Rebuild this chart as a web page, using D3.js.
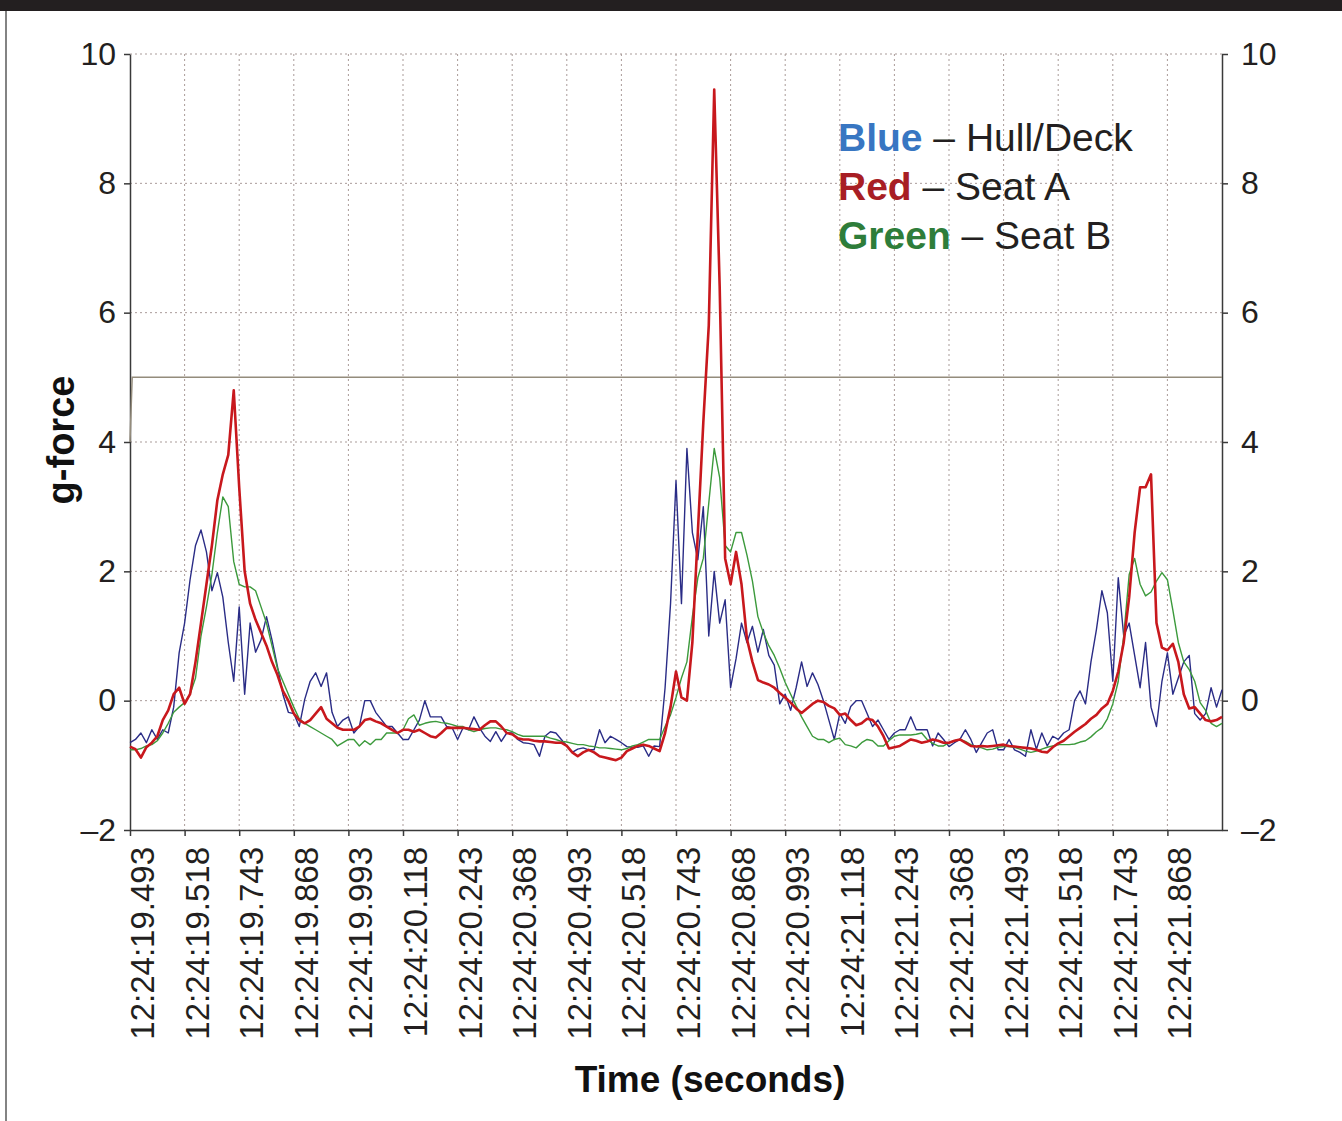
<!DOCTYPE html>
<html lang="en">
<meta charset="utf-8">
<title>g-force over time</title>
<style>
  body { margin: 0; background: #fff; font-family: "Liberation Sans", Arial, sans-serif; }
  .grid line { stroke: #a99b99; stroke-width: 1; stroke-dasharray: 2,3; }
  .axis path, .axis line { stroke: #3a3a3a; stroke-width: 1.5; }
  .axis text { font-family: "Liberation Sans", Arial, sans-serif; fill: #231f20; }
  .title { font-family: "Liberation Sans", Arial, sans-serif; font-weight: bold; fill: #111; }
  .legend { font-family: "Liberation Sans", Arial, sans-serif; font-size: 39px; fill: #231f20; }
</style>
<body>
<script src="https://d3js.org/d3.v7.min.js"></script>
<svg class="chart"></svg>
<script>
// sample index runs 0..200, ten samples between time labels
var timeLabels = ["12:24:19.493", "12:24:19.518", "12:24:19.743", "12:24:19.868", "12:24:19.993",
  "12:24:20.118", "12:24:20.243", "12:24:20.368", "12:24:20.493", "12:24:20.518",
  "12:24:20.743", "12:24:20.868", "12:24:20.993", "12:24:21.118", "12:24:21.243",
  "12:24:21.368", "12:24:21.493", "12:24:21.518", "12:24:21.743", "12:24:21.868"];
var gTicks = [-2, 0, 2, 4, 6, 8, 10];

// Blue - Hull/Deck
var hullDeck = [
  -0.65, -0.6, -0.5, -0.65, -0.45, -0.6, -0.45, -0.5, -0.1, 0.74,
  1.2, 1.87, 2.4, 2.64, 2.3, 1.7, 1.98, 1.6, 0.9, 0.3,
  1.45, 0.1, 1.2, 0.75, 0.94, 1.3, 0.94, 0.53, 0.1, -0.18,
  -0.2, -0.4, 0.02, 0.3, 0.43, 0.22, 0.43, -0.18, -0.4, -0.3,
  -0.25, -0.5, -0.4, 0.0, 0.0, -0.18, -0.29, -0.4, -0.4, -0.5,
  -0.6, -0.6, -0.45, -0.3, 0.0, -0.25, -0.25, -0.25, -0.4, -0.42,
  -0.6, -0.42, -0.45, -0.25, -0.42, -0.55, -0.63, -0.48, -0.63, -0.5,
  -0.5, -0.6, -0.65, -0.66, -0.68, -0.86, -0.55, -0.48, -0.5, -0.6,
  -0.7, -0.8, -0.75, -0.73, -0.76, -0.76, -0.45, -0.65, -0.55, -0.6,
  -0.65, -0.71, -0.72, -0.72, -0.7, -0.86, -0.7, -0.71, 0.2, 1.5,
  3.4, 1.5, 3.9, 2.6, 2.18, 3.0, 1.0, 2.0, 1.2, 1.56,
  0.2, 0.65, 1.2, 0.9, 1.15, 0.75, 1.1, 0.7, 0.55, -0.05,
  0.1, -0.15, 0.2, 0.6, 0.22, 0.43, 0.25, 0.0, -0.3, -0.6,
  -0.2, -0.35, -0.09, 0.0, 0.0, -0.2, -0.4, -0.3, -0.45, -0.6,
  -0.5, -0.45, -0.45, -0.25, -0.45, -0.45, -0.45, -0.7, -0.5, -0.6,
  -0.71, -0.65, -0.6, -0.45, -0.6, -0.8, -0.65, -0.5, -0.45, -0.76,
  -0.76, -0.6, -0.76, -0.8, -0.86, -0.45, -0.75, -0.5, -0.7, -0.55,
  -0.6, -0.5, -0.45, 0.0, 0.15, -0.05, 0.6, 1.1, 1.7, 1.36,
  0.3, 1.9, 1.0, 1.2, 0.7, 0.2, 0.9, -0.1, -0.4, 0.3,
  0.74, 0.1, 0.35, 0.6, 0.7, -0.2, -0.3, -0.2, 0.2, -0.1,
  0.17];

// Red - Seat A
var seatA = [
  -0.71, -0.75, -0.88, -0.72, -0.65, -0.55, -0.3, -0.15, 0.1, 0.2,
  -0.05, 0.1, 0.6, 1.2, 1.8, 2.4, 3.1, 3.5, 3.8, 4.8,
  3.3, 2.0, 1.5, 1.25, 1.05, 0.85, 0.6, 0.4, 0.15, 0.0,
  -0.2, -0.3, -0.35, -0.3, -0.2, -0.1, -0.28, -0.35, -0.42, -0.45,
  -0.45, -0.45, -0.4, -0.3, -0.28, -0.32, -0.35, -0.4, -0.45, -0.5,
  -0.45, -0.45, -0.48, -0.45, -0.5, -0.55, -0.57, -0.5, -0.42, -0.42,
  -0.42, -0.42, -0.43, -0.44, -0.45, -0.38, -0.32, -0.32, -0.4, -0.5,
  -0.52, -0.58, -0.6, -0.6, -0.62, -0.63, -0.63, -0.64, -0.65, -0.65,
  -0.7, -0.8, -0.86, -0.8, -0.76, -0.8, -0.86, -0.88, -0.9, -0.92,
  -0.88, -0.78, -0.74, -0.7, -0.68, -0.7, -0.74, -0.78, -0.5, -0.1,
  0.45, 0.05, 0.0, 0.9, 2.6, 4.3, 5.8, 9.45, 6.4, 2.2,
  1.8, 2.3, 1.8, 0.95, 0.6, 0.32, 0.28, 0.25, 0.2, 0.12,
  0.05, -0.03, -0.12, -0.19, -0.12, -0.05, 0.0, -0.02, -0.08, -0.12,
  -0.22, -0.2, -0.3, -0.38, -0.35, -0.28, -0.3, -0.4, -0.55, -0.74,
  -0.72, -0.7, -0.65, -0.6, -0.62, -0.65, -0.63, -0.6, -0.62, -0.65,
  -0.65, -0.62, -0.6, -0.65, -0.7, -0.71, -0.7, -0.71, -0.7, -0.69,
  -0.68, -0.7, -0.71, -0.72, -0.73, -0.74, -0.76, -0.79, -0.8, -0.72,
  -0.66, -0.62, -0.55, -0.48, -0.42, -0.36, -0.28, -0.22, -0.12, -0.05,
  0.15, 0.45, 0.9, 1.6, 2.6, 3.3, 3.3, 3.5, 1.2, 0.82,
  0.78, 0.88, 0.6, 0.1, -0.12, -0.1, -0.2, -0.3, -0.32, -0.3,
  -0.25];

// Green - Seat B
var seatB = [
  -0.76, -0.76, -0.74, -0.7, -0.68, -0.62, -0.5, -0.35, -0.18, -0.1,
  -0.03, 0.1, 0.35, 1.0, 1.45, 1.95, 2.6, 3.15, 3.0, 2.15,
  1.8, 1.76, 1.76, 1.7, 1.45, 1.2, 0.85, 0.5, 0.3, 0.1,
  -0.1, -0.28, -0.35, -0.4, -0.45, -0.5, -0.55, -0.6, -0.7, -0.65,
  -0.6, -0.6, -0.7, -0.62, -0.68, -0.6, -0.6, -0.5, -0.5, -0.5,
  -0.45, -0.28, -0.22, -0.38, -0.35, -0.33, -0.32, -0.34, -0.35, -0.37,
  -0.4, -0.4, -0.45, -0.48, -0.45, -0.43, -0.42, -0.42, -0.44, -0.45,
  -0.48, -0.52, -0.55, -0.55, -0.55, -0.55, -0.55, -0.58, -0.6, -0.63,
  -0.64, -0.66, -0.68, -0.68, -0.7, -0.71, -0.73, -0.73, -0.74, -0.75,
  -0.76, -0.74, -0.7, -0.68, -0.64, -0.6, -0.6, -0.6, -0.4, -0.22,
  0.05, 0.35, 0.6, 1.3, 1.9, 2.2, 3.05, 3.9, 3.45, 2.4,
  2.3, 2.6, 2.6, 2.25, 1.85, 1.3, 1.05, 0.85, 0.7, 0.5,
  0.28, 0.1, -0.08, -0.25, -0.4, -0.55, -0.6, -0.6, -0.65, -0.6,
  -0.58, -0.68, -0.7, -0.73, -0.65, -0.6, -0.62, -0.7, -0.7, -0.62,
  -0.55, -0.53, -0.53, -0.53, -0.52, -0.5, -0.6, -0.66, -0.7, -0.7,
  -0.65, -0.62, -0.6, -0.63, -0.68, -0.71, -0.73, -0.76, -0.75, -0.72,
  -0.71, -0.71, -0.72, -0.75, -0.78, -0.8, -0.78, -0.75, -0.72, -0.7,
  -0.68, -0.68, -0.68, -0.67, -0.64, -0.62, -0.56, -0.48, -0.42, -0.28,
  -0.05, 0.3, 1.0, 1.95, 2.2, 1.8, 1.62, 1.68, 1.85, 1.98,
  1.87, 1.4, 0.9, 0.6, 0.48, 0.3, -0.03, -0.15, -0.35, -0.4,
  -0.35];

// limit line (sample index, g)
var limitT = [0, 0.4, 200];
var limitV = [4, 5, 5];

var W = 1342, H = 1121;
var margin = {top: 54, right: 120, bottom: 291, left: 130},
    width = W - margin.left - margin.right,
    height = H - margin.top - margin.bottom;

var svg = d3.select(".chart")
    .attr("width", W)
    .attr("height", H);

// frame bits
svg.append("rect").attr("x", 0).attr("y", 0).attr("width", W).attr("height", 11).attr("fill", "#231f20");
svg.append("line").attr("x1", 6).attr("x2", 6).attr("y1", 11).attr("y2", H)
    .attr("stroke", "#5a5a5a").attr("stroke-width", 1.5);

var g = svg.append("g")
    .attr("transform", "translate(" + margin.left + "," + margin.top + ")");

var x = d3.scaleLinear().domain([0, 200]).range([0, width]);
var y = d3.scaleLinear().domain([-2, 10]).range([height, 0]);
var tickIdx = d3.range(0, 200, 10);

// grid
g.append("g").attr("class", "grid")
  .selectAll("line").data(gTicks.filter(function(d) { return d > -2; }))
  .enter().append("line")
    .attr("x1", 0).attr("x2", width)
    .attr("y1", function(d) { return y(d); }).attr("y2", function(d) { return y(d); });
g.append("g").attr("class", "grid")
  .selectAll("line").data(tickIdx.slice(1))
  .enter().append("line")
    .attr("x1", function(d) { return x(d); }).attr("x2", function(d) { return x(d); })
    .attr("y1", 0).attr("y2", height);

// axes
var yl = g.append("g").attr("class", "axis")
    .call(d3.axisLeft(y).tickValues(gTicks).tickSize(6).tickSizeOuter(0).tickPadding(8));
var yr = g.append("g").attr("class", "axis")
    .attr("transform", "translate(" + width + ",0)")
    .call(d3.axisRight(y).tickValues(gTicks).tickSize(6).tickSizeOuter(0).tickPadding(13));
[yl, yr].forEach(function(a) {
  a.selectAll("text").style("font-size", "32px").text(function(d) { return d < 0 ? "\u2013" + (-d) : d; });
});

var xa = g.append("g").attr("class", "axis")
    .attr("transform", "translate(0," + height + ")")
    .call(d3.axisBottom(x).tickValues(tickIdx).tickSize(6).tickSizeOuter(0)
      .tickFormat(function(d, i) { return timeLabels[i]; }));
xa.selectAll("text")
    .style("font-size", "33px")
    .style("text-anchor", "end")
    .attr("transform", "rotate(-90)")
    .attr("x", -17)
    .attr("y", 12)
    .attr("dy", "0.35em");

// limit line
var limit = limitT.map(function(t, i) { return [t, limitV[i]]; });
g.append("path").datum(limit)
    .attr("fill", "none").attr("stroke", "#948c7c").attr("stroke-width", 1.5)
    .attr("d", d3.line().x(function(d) { return x(d[0]); }).y(function(d) { return y(d[1]); }));

var line = d3.line()
    .x(function(d, i) { return x(i); })
    .y(function(d) { return y(d); });

g.append("path").datum(hullDeck)
    .attr("fill", "none").attr("stroke", "#2a2c86").attr("stroke-width", 1.4)
    .attr("stroke-linejoin", "round").attr("d", line);
g.append("path").datum(seatB)
    .attr("fill", "none").attr("stroke", "#3c9a3c").attr("stroke-width", 1.4)
    .attr("stroke-linejoin", "round").attr("d", line);
g.append("path").datum(seatA)
    .attr("fill", "none").attr("stroke", "#c8181d").attr("stroke-width", 2.6)
    .attr("stroke-linejoin", "round").attr("d", line);

// axis titles
svg.append("text").attr("class", "title")
    .attr("transform", "translate(74,440) rotate(-90)")
    .attr("text-anchor", "middle")
    .style("font-size", "38px")
    .text("g-force");
svg.append("text").attr("class", "title")
    .attr("x", 710).attr("y", 1092)
    .attr("text-anchor", "middle")
    .style("font-size", "37px")
    .text("Time (seconds)");

// legend
var legendRows = [
  {key: "Blue", color: "#3876c2", label: " \u2013 Hull/Deck"},
  {key: "Red", color: "#a81e24", label: " \u2013 Seat A"},
  {key: "Green", color: "#2e7d3a", label: " \u2013 Seat B"}
];
var legend = svg.append("g").attr("class", "legend");
legendRows.forEach(function(r, i) {
  var t = legend.append("text").attr("x", 838).attr("y", 151 + i * 49);
  t.append("tspan").attr("font-weight", "bold").attr("fill", r.color).text(r.key);
  t.append("tspan").text(r.label);
});
</script>
</body>
</html>
